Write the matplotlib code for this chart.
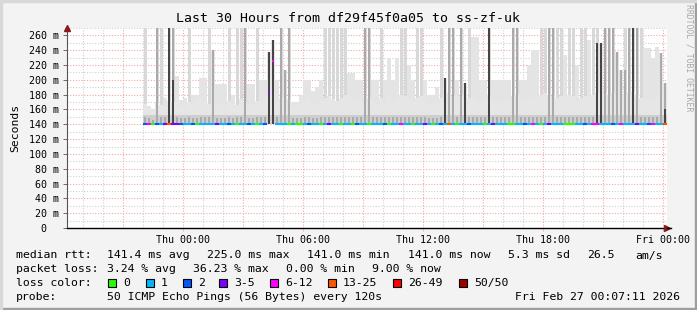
#!/usr/bin/env python3
# -*- coding: utf-8 -*-
"""
Smokeping style latency graph, last 30 hours.
"""
import numpy as np
import matplotlib
matplotlib.use("Agg")
import matplotlib.pyplot as plt
from matplotlib.patches import Rectangle

W, H = 697, 310

# time axis in hours relative to Thu 00:00
x_start, x_end = -5.8, 24.2
bin_w = 0.2          # one smoke column = 12 minutes
first_bin = -2.0     # data starts Wed 22:00

# rtt values in ms, one entry per 12-minute column
smoke_light = [270, 165, 160, 270, 270, 175, 270, 270, 205, 173,
               175, 270, 180, 180, 202, 202, 270, 240, 195, 195,
               195, 270, 180, 270, 270, 270, 195, 195, 270, 200,
               200, 238, 254, 200, 270, 213, 270, 170, 170, 180,
               200, 200, 185, 190, 200, 270, 270, 270, 270, 270,
               270, 209, 209, 200, 200, 270, 270, 200, 200, 270,
               200, 230, 200, 230, 270, 270, 220, 200, 270, 270,
               200, 180, 180, 190, 270, 202, 270, 270, 200, 270,
               196, 270, 258, 258, 200, 200, 270, 200, 200, 200,
               200, 200, 270, 270, 200, 200, 220, 240, 240, 270,
               270, 270, 270, 270, 270, 233, 270, 270, 220, 270,
               270, 254, 270, 270, 250, 270, 270, 270, 237, 213,
               270, 270, 270, 270, 270, 243, 243, 230, 245, 236,
               196]
# lower, denser part of the smoke
smoke_haze = [168, 162, 158, 170, 166, 164, 172, 170, 175, 165,
              163, 170, 168, 172, 176, 170, 168, 174, 166, 170,
              164, 172, 168, 166, 174, 170, 168, 165, 172, 170,
              175, 180, 180, 172, 176, 178, 174, 163, 165, 168,
              172, 175, 166, 168, 172, 176, 178, 174, 172, 176,
              180, 178, 172, 170, 174, 178, 176, 170, 168, 176,
              170, 178, 172, 176, 180, 178, 174, 170, 176, 178,
              172, 166, 165, 170, 176, 180, 182, 178, 172, 178,
              180, 176, 178, 174, 170, 172, 180, 172, 168, 170,
              172, 170, 178, 180, 172, 170, 174, 178, 176, 180,
              182, 180, 178, 176, 178, 176, 180, 178, 172, 176,
              178, 176, 180, 182, 180, 182, 180, 182, 180, 176,
              180, 182, 184, 180, 176, 174, 176, 172, 176, 180,
              176]
smoke_mid = [150, 148, 146, 270, 150, 150, 270, 270, 150, 148,
             148, 150, 148, 148, 150, 150, 150, 240, 148, 148,
             148, 150, 148, 150, 150, 270, 148, 148, 150, 150,
             150, 238, 254, 150, 270, 213, 270, 148, 148, 148,
             150, 150, 148, 148, 150, 150, 150, 150, 150, 150,
             150, 150, 150, 150, 150, 270, 270, 150, 150, 150,
             150, 150, 150, 150, 150, 150, 150, 150, 150, 150,
             150, 148, 148, 148, 150, 202, 270, 270, 150, 270,
             196, 150, 150, 150, 150, 150, 270, 150, 150, 150,
             150, 150, 270, 270, 150, 150, 150, 150, 150, 150,
             150, 270, 270, 150, 150, 150, 150, 150, 150, 150,
             150, 150, 150, 250, 250, 270, 270, 270, 237, 213,
             213, 270, 270, 270, 150, 150, 150, 150, 150, 236,
             196]
smoke_dark = [141, 141, 141, 141, 141, 141, 270, 200, 141, 141,
              141, 141, 141, 141, 141, 141, 141, 141, 141, 141,
              141, 141, 141, 141, 141, 141, 141, 141, 141, 141,
              141, 238, 254, 141, 141, 141, 141, 141, 141, 141,
              141, 141, 141, 141, 141, 141, 141, 141, 141, 141,
              141, 141, 141, 141, 141, 141, 141, 141, 141, 141,
              141, 141, 141, 141, 141, 141, 141, 141, 141, 141,
              141, 141, 141, 141, 141, 202, 141, 141, 141, 141,
              196, 141, 141, 141, 141, 141, 270, 141, 141, 141,
              141, 141, 141, 141, 141, 141, 141, 141, 141, 141,
              141, 141, 141, 141, 141, 141, 141, 141, 141, 141,
              141, 141, 141, 250, 250, 141, 141, 141, 141, 141,
              141, 141, 270, 141, 141, 141, 141, 141, 141, 141,
              160]
median_rtt = [141] * 31 + [184, 225] + [141] * 98
# lost pings out of 50, as legend class index
loss_class = [2, 4, 0, 2, 1, 3, 5, 3, 3, 2,
              1, 1, 2, 0, 1, 1, 1, 1, 3, 1,
              1, 2, 1, 0, 1, 1, 2, 1, 0, 1,
              2, 3, 4, 1, 1, 1, 0, 1, 0, 0,
              1, 2, 1, 1, 0, 1, 3, 1, 1, 0,
              1, 1, 0, 2, 1, 1, 0, 1, 1, 1,
              2, 0, 1, 1, 4, 1, 1, 0, 1, 1,
              3, 1, 0, 1, 2, 1, 5, 1, 0, 1,
              1, 2, 1, 1, 1, 0, 1, 3, 1, 1,
              1, 0, 0, 1, 1, 2, 1, 4, 1, 0,
              1, 3, 1, 1, 1, 0, 0, 0, 1, 1,
              2, 1, 4, 4, 1, 1, 1, 2, 1, 4,
              1, 1, 1, 3, 1, 1, 2, 4, 1, 1,
              5]

loss_names = ["0", "1", "2", "3-5", "6-12", "13-25", "26-49", "50/50"]
loss_colors = ["#26ff00", "#00b8ff", "#0059ff", "#7e00ff",
               "#ff00ff", "#ff5500", "#ff0000", "#a10000"]

y_ticks = list(range(0, 261, 20))
x_tick_hours = [0, 6, 12, 18, 24]
x_tick_labels = ["Thu 00:00", "Thu 06:00", "Thu 12:00", "Thu 18:00", "Fri 00:00"]

title = "Last 30 Hours from df29f45f0a05 to ss-zf-uk"
stats_rtt = ["median rtt:", "141.4 ms avg", "225.0 ms max", "141.0 ms min",
             "141.0 ms now", "5.3 ms sd", "26.5", "am/s"]
stats_loss = ["packet loss:", "3.24 % avg", "36.23 % max", "0.00 % min", "9.00 % now"]
probe_text = "50 ICMP Echo Pings (56 Bytes) every 120s"
stamp = "Fri Feb 27 00:07:11 2026"

MONO = "DejaVu Sans Mono"
plt.rcParams["font.family"] = MONO


def px(x):
    return x / W


def py(y):
    return 1 - y / H


fig = plt.figure(figsize=(W / 100, H / 100), dpi=100, facecolor="#f3f3f3")

# 3d-ish frame like rrdtool
fig.patches.append(Rectangle((0, 0), 1, 2 / H, transform=fig.transFigure, color="#9e9e9e", zorder=0))
fig.patches.append(Rectangle((1 - 2 / W, 0), 2 / W, 1, transform=fig.transFigure, color="#9e9e9e", zorder=0))
fig.patches.append(Rectangle((0, 1 - 2 / H), 1, 2 / H, transform=fig.transFigure, color="#d8d8d8", zorder=0))
fig.patches.append(Rectangle((0, 0), 2 / W, 1, transform=fig.transFigure, color="#d8d8d8", zorder=0))

ax = fig.add_axes([px(67), py(228), px(600), 200 / H])
ax.set_facecolor("white")
ax.set_xlim(x_start, x_end)
ax.set_ylim(0, 270)

# grid
grid_minor = dict(color="#d0d0d0", lw=0.8, ls=(0, (1, 1.5)), zorder=1)
grid_major = dict(color="#f0a8a8", lw=0.8, ls=(0, (1, 1.5)), zorder=1)
for v in range(10, 271, 20):
    ax.axhline(v, **grid_minor)
for v in y_ticks[1:]:
    ax.axhline(v, **grid_major)
for h in range(-5, 25):
    ax.axvline(h, **(grid_major if h % 3 == 0 else grid_minor))

# smoke
n = len(smoke_light)
lefts = first_bin + bin_w * np.arange(n)
mids = lefts + bin_w / 2
base = np.full(n, 141.0)
light = np.array(smoke_light)
full = light >= 270
ax.bar(mids[~full], light[~full] - 141, bottom=141, width=bin_w * 0.85,
       color="#e4e4e4", lw=0, zorder=2)
ax.bar(mids[full], light[full] - 141, bottom=141, width=bin_w * 0.75,
       color="#d8d8d8", lw=0, zorder=2)
ax.bar(lefts, np.array(smoke_haze) - base, bottom=base, width=bin_w, align="edge",
       color="#e6e6e6", lw=0, zorder=2)
ax.bar(lefts, np.minimum(smoke_haze, 152) - base, bottom=base, width=bin_w, align="edge",
       color="#cecece", lw=0, zorder=2)
ax.bar(mids, np.array(smoke_mid) - base, bottom=base, width=bin_w * 0.5,
       color="#aaaaaa", lw=0, zorder=3)
ax.bar(mids, np.array(smoke_dark) - base, bottom=base, width=bin_w * 0.4,
       color="#454545", lw=0, zorder=4)

# median line coloured by loss (no joins between classes, as rrdtool draws it)
for i in range(n):
    c = loss_colors[loss_class[i]]
    if median_rtt[i] == 141:
        ax.plot([lefts[i], lefts[i] + bin_w], [median_rtt[i]] * 2,
                color=c, lw=1.5, solid_capstyle="butt", zorder=6)
    else:
        ax.plot([mids[i] - 0.04, mids[i] + 0.04], [median_rtt[i]] * 2,
                color=c, lw=1.5, solid_capstyle="butt", zorder=6)

# axes
for s in ["top", "right"]:
    ax.spines[s].set_visible(False)
ax.spines["left"].set_color("#555555")
ax.spines["bottom"].set_color("#000000")
ax.spines["left"].set_linewidth(0.8)
ax.spines["bottom"].set_linewidth(1.0)
ax.set_yticks(y_ticks)
ax.set_yticklabels([f"{v} m" if v else "0  " for v in y_ticks], fontsize=7.2)
ax.set_xticks(x_tick_hours)
ax.set_xticklabels(x_tick_labels, fontsize=7.2)
ax.tick_params(axis="y", length=3, width=0.6, color="#555555", pad=3)
ax.tick_params(axis="x", length=2, width=0.6, color="#f0a8a8", pad=3)
ax.set_ylabel("Seconds", fontsize=8.2, labelpad=6)

# arrows at axis ends
fig.lines.append(plt.Line2D([px(667), px(671)], [py(228), py(228)], transform=fig.transFigure,
                            color="#000000", lw=1))
ax.plot([1.0], [0], marker=">", ms=5, color="#8b1a1a", transform=ax.transAxes, clip_on=False, zorder=8)
ax.plot([0], [1.0], marker="^", ms=5, color="#8b1a1a", transform=ax.transAxes, clip_on=False, zorder=8)

# title and watermark
fig.text(px(348), py(19), title, fontsize=9.5, ha="center", va="center")
fig.text(px(689), py(58), "RRDTOOL / TOBI OETIKER", fontsize=5.9, rotation=-90,
         ha="center", va="center", color="#a8a8a8")

# legend block
rtt_x = [16, 107, 207, 307, 408, 508, 587, 635]
for t, xx in zip(stats_rtt, rtt_x):
    fig.text(px(xx), py(258.5), t, fontsize=8.25, va="baseline")
loss_x = [16, 107, 193, 286, 372]
for t, xx in zip(stats_loss, loss_x):
    fig.text(px(xx), py(272.2), t, fontsize=8.25, va="baseline")
fig.text(px(16), py(286), "loss color:", fontsize=8.25, va="baseline")
box_x = [108, 146, 183, 219, 270, 328, 393, 459]
for name, c, xx in zip(loss_names, loss_colors, box_x):
    fig.patches.append(Rectangle((px(xx), py(286.5)), px(8), 8 / H, transform=fig.transFigure,
                                 facecolor=c, edgecolor="black", lw=0.8))
    fig.text(px(xx + 15), py(286), name, fontsize=8.25, va="baseline")
fig.text(px(16), py(299.8), "probe:", fontsize=8.25, va="baseline")
fig.text(px(107), py(299.8), probe_text, fontsize=8.25, va="baseline")
fig.text(px(680), py(299.8), stamp, fontsize=8.25, va="baseline", ha="right")

fig.savefig("out.png", dpi=100, facecolor=fig.get_facecolor())
